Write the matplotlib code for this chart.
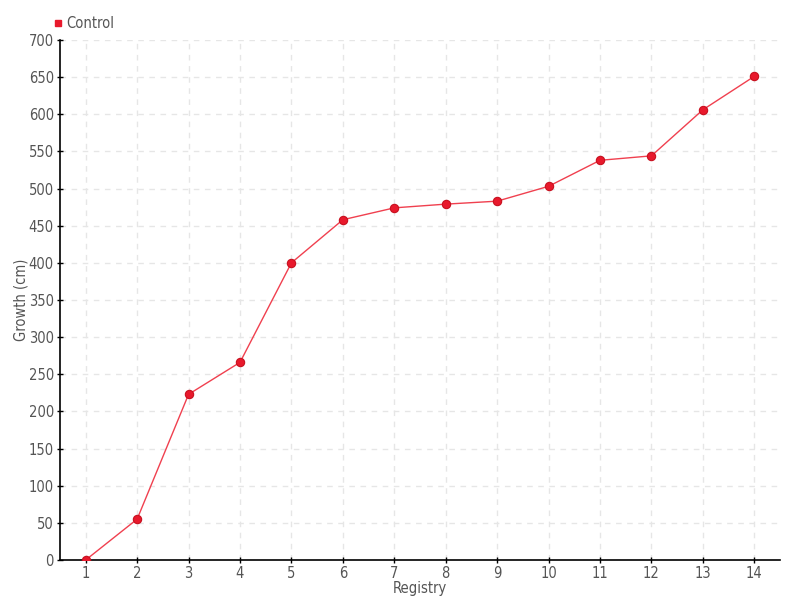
import matplotlib
matplotlib.use("Agg")
import matplotlib.pyplot as plt
from matplotlib.lines import Line2D

registry = list(range(1, 15))
growth = [0, 55, 223, 266, 400, 458, 474, 479, 483, 503, 538, 544, 606, 651]
y_ticks = list(range(0, 701, 50))

plt.rcParams["font.family"] = ["DejaVu Sans"]
plt.rcParams["font.stretch"] = "condensed"

text_color = "#555555"
red = "#e8192c"

fig = plt.figure(figsize=(8, 6), dpi=100)
ax = fig.add_axes([0.075, 0.0667, 0.9, 0.8667])

ax.plot(registry, growth, color="#f0404f", linewidth=1, zorder=3)
ax.plot(registry, growth, linestyle="none", marker="o", markersize=6,
        markerfacecolor=red, markeredgecolor="#c8101f", markeredgewidth=0.8, zorder=4)

ax.set_xlim(0.5, 14.5)
ax.set_ylim(0, 700)
ax.set_xticks(registry)
ax.set_yticks(y_ticks)

ax.grid(True, color="#e6e6e6", linestyle=(0, (4, 4)), linewidth=1)
ax.set_axisbelow(True)

for side in ("top", "right"):
    ax.spines[side].set_visible(False)
for side in ("left", "bottom"):
    ax.spines[side].set_color("black")
    ax.spines[side].set_linewidth(1.2)

ax.tick_params(direction="inout", length=5, width=1, colors="black",
               labelcolor=text_color, labelsize=10.5, pad=2)
ax.set_xlabel("Registry", color=text_color, fontsize=10.5, labelpad=0)
ax.set_ylabel("Growth (cm)", color=text_color, fontsize=10.5, labelpad=0)

handle = Line2D([], [], linestyle="none", marker="s", markersize=4.5,
                markerfacecolor=red, markeredgecolor=red)
fig.legend([handle], ["Control"], loc="upper left", bbox_to_anchor=(0.055, 0.99),
           frameon=False, handlelength=0.5, handletextpad=0.3, fontsize=10.5,
           labelcolor=text_color, borderaxespad=0.3)

fig.savefig("out.png", dpi=100)
